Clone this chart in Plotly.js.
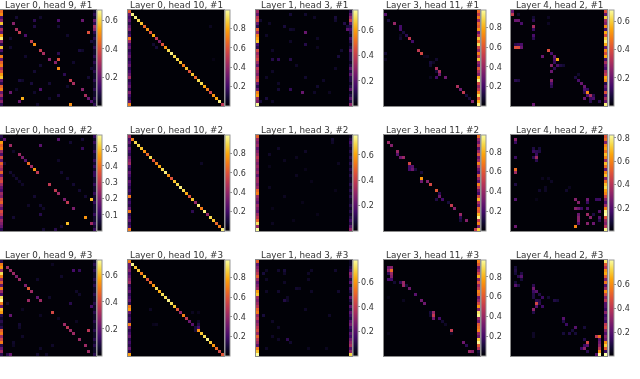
<!DOCTYPE html>
<html><head><meta charset="utf-8">
<script src="https://cdn.plot.ly/plotly-3.0.1.min.js"></script>
<style>html,body{margin:0;padding:0;background:#fff}#c{width:640px;height:379px;filter:blur(0.4px)}</style>
</head><body><div id="c"></div>
<script>
const titles=["Layer 0, head 9, #1","Layer 0, head 10, #1","Layer 1, head 3, #1","Layer 3, head 11, #1","Layer 4, head 2, #1",
"Layer 0, head 9, #2","Layer 0, head 10, #2","Layer 1, head 3, #2","Layer 3, head 11, #2","Layer 4, head 2, #2",
"Layer 0, head 9, #3","Layer 0, head 10, #3","Layer 1, head 3, #3","Layer 3, head 11, #3","Layer 4, head 2, #3"];
const zmaxes=[.67,.99,.76,.98,.68,.59,.99,.757,.97,.825,.71,.98,.78,.97,.8];
const ticks=[[.2,.4,.6],[.2,.4,.6,.8],[.2,.4,.6],[.2,.4,.6,.8],[.2,.4,.6],
[.1,.2,.3,.4,.5],[.2,.4,.6,.8],[.2,.4,.6],[.2,.4,.6,.8],[.2,.4,.6,.8],
[.2,.4,.6],[.2,.4,.6,.8],[.2,.4,.6],[.2,.4,.6,.8],[.2,.4,.6]];

// left column (column 0) of each panel
const left=[
[.45,.5,.15,.25,.58,.1,.3,.2,.52,.64,.25,.1,.58,.15,.05,.48,.2,.43,.48,.3,.4,.52,.58,.2,.1,.43,.48,.2,.3,.15,.25,.1],
[.62,.28,.2,.28,.14,.28,.35,.14,.2,.7,.42,.2,.28,.14,.2,.28,.14,.2,.28,.14,.2,.28,.42,.14,.2,.28,.14,.35,.2,.14,.28,.7],
[.32,.22,.38,.43,.22,.11,.48,.32,.54,.6,.65,.16,.11,.43,.32,.38,.43,.32,.22,.38,.32,.27,.38,.43,.22,.11,.22,.54,.6,.32,.27,.75],
[],[.2,0,0,0,0,0,0,0,0,0,0,0,0,0,0,0,0,0,0,0,0,0,0,0,0,0,0,0,0,0,0,0],
[.08,.04,.46,.38,.42,.25,.13,.34,.17,.38,.3,.25,.38,.17,.3,.34,.25,.17,.13,.25,.21,.34,.38,.25,.17,.34,.3,.17,.25,.21,.17,.08],
[.42,.2,.28,.14,.28,.2,.14,.28,.35,.42,.2,.14,.28,.2,.14,.28,.2,.14,.2,.14,.7,.14,.2,.14,.28,.7,.14,.2,.28,.14,.2,.7],
[.49,.32,.27,.32,.22,.27,.32,.38,.32,.27,.32,.27,.32,.22,.32,.32,.27,.32,.49,.54,.32,.27,.22,.32,.27,.22,.32,.38,.49,.7,.32,.75],
[],[],
[.1,.5,.55,.3,.65,.5,.3,.45,.2,.5,.3,.15,.65,.7,.5,.2,.6,.55,.1,.05,.1,.05,.1,.45,.5,.3,.4,.5,.1,.2,.3,.1],
[.7,.28,.28,.35,.2,.28,.35,.42,.14,.2,.28,.14,.2,.28,.14,.7,.77,.28,.14,.2,.14,.7,.28,.14,.2,.28,.14,.2,.14,.28,.14,.77],
[.5,.22,.28,.33,.39,.5,.33,.22,.28,.33,.61,.67,.33,.28,.33,.39,.5,.55,.33,.39,.28,.33,.39,.44,.33,.5,.39,.33,.22,.55,.67,.78],
[],[]];

// right column (column 31) of each panel
const right=[
[.05,.1,.05,.2,.1,.3,.05,.1,.05,.1,.05,.05,.1,.05,.05,.1,.05,.1,.05,.05,.1,.05,.05,.1,.05,.05,.1,.05,.05,.1,.05,.1],
[],
[.1,.2,.3,.4,.2,.1,.15,.1,.05,.15,.1,.05,.1,.2,.1,.1,.1,.05,.1,.2,.1,.2,.1,.1,.05,.1,.2,.05,.1,.2,.1,.3],
[.65,.5,.7,.4,.65,.6,.75,.3,.5,.85,.65,.9,.55,.4,.7,.5,.85,.4,.3,.6,.45,.35,.8,.95,.55,.4,.5,.7,.9,.6,.8,.95],
[.4,.2,.6,.3,.25,.5,.15,.55,.4,.6,.65,.55,.2,.5,.4,.55,.15,.3,.2,.15,.3,.35,.55,.5,.1,.2,.15,.4,.15,.3,.2,.65],
[.1,.05,.1,.05,.05,.1,.05,.05,.1,.05,.1,.05,.05,.1,.05,.05,.1,.05,.05,.1,.05,.05,.1,.05,.05,.05,.1,.05,.05,.1,.05,.1],
[],
[.05,.1,.15,.1,.05,.1,.05,.1,.05,.1,.05,.1,.05,.1,.05,.05,.1,.05,.1,.05,.1,.05,.05,.1,.05,.1,.05,.1,.15,.1,.2,.3],
[.65,.4,.3,.5,.25,.4,.6,.3,.4,.7,.45,.3,.2,.6,.4,.25,.7,.5,.3,.2,.55,.8,.45,.3,.65,.6,.8,.95,.5,.7,.3,.85],
[.5,.55,.3,.6,.65,.55,.7,.6,.35,.7,.55,.25,.6,.7,.3,.55,.7,.75,.65,.6,.45,.3,.2,.35,.6,.8,.9,.5,.35,.3,.4,.8],
[.05,.1,.05,.1,.05,.05,.1,.05,.1,.05,.05,.1,.05,.05,.1,.05,.05,.1,.05,.05,.1,.05,.05,.1,.05,.05,.1,.05,.1,.05,.05,.1],
[],
[.05,.05,.1,.15,.3,.25,.1,.2,.05,.15,.1,.05,.2,.1,.05,.2,.1,.2,.15,.1,.2,.25,.15,.1,.2,.15,.25,.3,.35,.2,.3,.7],
[.7,.6,.3,.4,.55,.8,.35,.6,.4,.5,.7,.65,.3,.4,.55,.75,.35,.9,.95,.4,.3,.6,.65,.7,.4,.3,.85,.95,.6,.45,.1,.05],
[.75,.5,.4,.6,.65,.5,.3,.55,.2,.35,.6,.45,.3,.4,.2,.2,.15,.3,.15,.2,.15,.4,.45,.3,.2,.3,.25,.6,.7,.5,.15,.8]];

// main diagonal of the "head 10" panels, rows 1 to 31
const diag10a=[.95,.95,.9,.85,.65,.75,.6,.8,.5,.35,.6,.75,.9,.95,.9,.9,.85,.7,.85,.6,.85,.65,.9,.9,.8,.7,.55,.75,.8,.95,.5];
const diag10b=[.7,.9,.9,.85,.75,.65,.9,.6,.7,.8,.9,.95,.75,.6,.85,.9,.95,.9,.8,.6,.85,.4,.95,.7,.95,.4,.9,.85,.65,.7,.95];
const diag10c=[.95,.85,.85,.7,.85,.6,.65,.75,.9,.8,.9,.9,.95,.9,.85,.6,.4,.7,.5,.3,.25,.9,.75,.85,.9,.95,.85,.75,.65,.55,.6];

// other cells, [row, column, value]
const cells00=[[4,4,.25],[6,5,.3],[7,6,.35],[8,8,.15],[10,10,.35],[11,11,.5],[13,13,.35],[14,14,.3],[16,16,.25],[17,18,.25],[16,19,.4],[19,19,.5],[21,21,.1],[23,23,.35],[24,24,.3],[26,27,.25],[28,28,.3],[29,29,.2],[30,30,.15],[7,29,.4],[3,27,.2],[29,7,.55],[31,23,.5],[27,3,.2],[26,13,.15],[30,6,.2],[3,19,.15],[3,11,.1],[6,31,.25],[2,5,.06],[2,13,.05],[5,11,.08],[5,19,.06],[9,3,.05],[12,3,.05],[13,26,.07],[13,27,.05],[14,19,.1],[15,8,.05],[18,13,.06],[20,11,.06],[23,6,.07],[23,7,.05],[24,10,.07],[24,16,.06],[25,22,.05],[26,5,.05],[27,11,.05],[28,19,.08],[22,29,.06],[19,30,.05],[10,30,.07],[29,16,.05],[31,12,.05],[8,22,.05],[17,24,.05]];
const cells01=[[12,9,.1],[11,8,.08],[5,27,.05],[16,28,.03]];
const cells02=[[3,1,.06],[5,9,.08],[7,16,.22],[10,11,.05],[11,16,.1],[13,5,.05],[16,5,.1],[16,7,.12],[16,11,.1],[15,27,.08],[13,28,.06],[1,11,.07],[1,16,.06],[2,26,.08],[3,26,.06],[2,19,.05],[6,11,.06],[6,12,.05],[4,4,.05],[8,3,.05],[9,20,.05],[12,20,.04],[18,13,.05],[20,5,.05],[22,3,.05],[26,7,.07],[26,11,.12],[27,15,.22],[27,19,.05],[29,3,.08],[30,1,.08],[30,5,.05],[22,16,.06],[23,22,.05],[24,7,.05],[25,20,.06],[19,26,.05],[27,24,.04],[5,30,.08],[6,30,.2],[4,29,.1]];
const cells03=[[1,0,.25],[3,1,.1],[4,3,.4],[5,5,.2],[6,5,.2],[8,5,.05],[7,6,.1],[8,7,.15],[9,8,.5],[10,9,.2],[9,5,.08],[13,11,.5],[14,12,.55],[15,14,.05],[15,13,.04],[17,15,.1],[18,15,.08],[17,16,.06],[19,17,.45],[20,18,.45],[21,18,.3],[22,17,.2],[22,20,.3],[20,17,.1],[16,17,.08],[22,15,.05],[25,24,.45],[26,25,.3],[27,26,.5],[28,27,.1],[29,28,.1],[30,29,.35],[14,0,.08],[16,0,.05]];
const cells04=[[1,0,.35],[3,1,.2],[3,2,.2],[4,3,.15],[5,7,.3],[3,7,.1],[8,7,.15],[9,7,.1],[6,7,.12],[12,1,.4],[12,2,.4],[11,3,.15],[11,1,.1],[11,2,.12],[12,3,.2],[15,10,.2],[13,12,.4],[16,15,.55],[15,14,.2],[14,13,.15],[16,14,.15],[18,13,.25],[18,15,.15],[17,14,.12],[19,14,.1],[20,13,.2],[18,16,.08],[18,17,.06],[23,13,.25],[25,13,.1],[24,13,.15],[23,22,.15],[24,23,.2],[27,25,.5],[25,24,.2],[28,26,.3],[26,24,.15],[26,25,.12],[27,24,.1],[28,25,.15],[29,24,.2],[29,27,.15],[29,26,.12],[28,27,.1],[30,29,.1],[30,26,.1],[31,7,.2],[23,1,.1],[23,2,.08],[1,2,.05],[2,7,.06],[2,12,.04],[4,12,.04],[22,21,.08],[21,22,.05]];
const cells10=[[3,3,.25],[1,1,.15],[6,6,.25],[7,7,.2],[8,8,.15],[9,9,.4],[10,10,.25],[11,11,.45],[12,12,.3],[16,16,.3],[18,18,.3],[19,19,.25],[21,21,.2],[22,22,.3],[24,24,.2],[21,30,.5],[27,28,.45],[29,30,.25],[29,22,.5],[3,13,.15],[1,19,.15],[4,27,.1],[12,31,.1],[5,4,.04],[9,1,.05],[12,3,.05],[13,4,.04],[14,5,.05],[15,6,.04],[16,7,.04],[20,11,.05],[23,13,.05],[24,14,.04],[26,13,.08],[8,19,.04],[12,20,.05],[14,22,.05],[16,24,.05],[18,26,.05],[20,28,.05],[31,18,.08],[31,14,.05],[30,20,.05],[2,23,.05],[27,4,.05],[23,9,.04],[1,27,.05]];
const cells11=[[9,24,.06],[25,21,.15],[6,5,.02],[17,16,.02]];
const cells12=[[1,25,.06],[2,25,.05],[4,7,.05],[5,16,.05],[6,4,.05],[7,13,.04],[8,9,.04],[9,27,.04],[10,4,.03],[11,16,.03],[13,13,.04],[15,18,.03],[17,4,.04],[18,26,.03],[20,9,.04],[22,15,.03],[24,5,.03],[26,20,.03],[28,12,.03],[29,5,.04]];
const cells13=[[2,1,.4],[3,2,.35],[5,4,.4],[6,4,.25],[7,5,.3],[7,6,.4],[9,8,.55],[10,9,.25],[11,8,.2],[11,9,.3],[10,8,.2],[11,10,.1],[12,12,.1],[14,12,.75],[15,12,.3],[15,14,.35],[16,15,.55],[18,17,.6],[19,18,.15],[20,18,.3],[21,19,.2],[21,17,.12],[22,21,.1],[23,22,.5],[24,23,.35],[26,25,.4],[27,25,.15],[28,27,.35],[28,25,.1],[31,30,.5]];
const cells14=[[1,1,.3],[2,1,.15],[7,8,.35],[5,7,.15],[5,9,.1],[5,8,.12],[6,8,.15],[8,8,.12],[7,7,.12],[4,7,.1],[4,9,.08],[7,1,.15],[11,1,.55],[12,1,.35],[16,1,.1],[21,1,.2],[30,1,.25],[30,21,.6],[21,21,.3],[22,22,.3],[21,25,.25],[22,25,.15],[24,21,.3],[24,22,.25],[24,23,.15],[24,25,.2],[26,25,.35],[27,26,.3],[27,22,.3],[28,22,.3],[26,22,.25],[29,22,.2],[29,25,.3],[29,27,.25],[26,27,.1],[25,29,.2],[27,29,.2],[21,29,.15],[21,28,.15],[28,29,.12],[14,10,.04],[14,12,.04],[15,13,.05],[17,11,.05],[18,18,.06],[17,19,.04],[18,9,.06],[18,11,.05],[21,8,.03]];
const cells20=[[2,2,.3],[3,3,.3],[4,4,.3],[5,5,.25],[6,6,.3],[8,8,.25],[9,9,.45],[10,10,.3],[13,9,.3],[12,12,.2],[13,13,.3],[17,17,.4],[21,21,.3],[22,22,.35],[23,23,.3],[24,24,.3],[23,29,.35],[26,26,.3],[28,28,.3],[30,29,.3],[3,24,.15],[3,26,.12],[18,3,.2],[14,23,.1],[15,30,.15],[31,3,.2],[31,2,.1],[31,15,.05],[31,12,.06],[10,25,.05],[11,26,.05],[20,25,.04],[21,6,.06],[22,6,.05],[25,7,.05],[27,4,.05],[28,4,.04],[12,16,.05],[14,2,.05],[16,7,.04],[18,13,.04],[19,19,.04],[6,12,.05],[5,20,.05],[1,17,.04],[28,17,.05],[29,13,.05]];
const cells21=[[16,7,.06],[21,9,.05],[21,8,.04],[22,23,.2],[21,23,.12],[22,22,.1],[20,23,.06],[17,21,.05],[17,23,.04],[23,22,.1],[12,13,.04]];
const cells22=[[3,9,.08],[3,7,.06],[3,3,.05],[4,2,.08],[4,9,.05],[6,3,.05],[7,9,.05],[9,13,.06],[9,14,.05],[10,7,.06],[10,3,.05],[10,27,.06],[10,18,.05],[12,10,.05],[13,9,.1],[13,10,.05],[16,16,.05],[18,2,.08],[18,24,.05],[20,5,.05],[22,7,.05],[25,5,.05],[26,10,.12],[27,11,.06],[26,7,.05],[29,17,.04],[29,3,.05],[6,17,.05],[4,17,.05],[3,18,.05],[3,26,.06],[29,23,.04]];
const cells23=[[3,1,.4],[2,2,.35],[3,2,.65],[4,2,.4],[2,1,.3],[4,1,.15],[6,1,.2],[5,2,.35],[6,2,.2],[7,3,.08],[7,6,.4],[8,6,.4],[7,5,.15],[8,7,.1],[9,8,.3],[11,10,.25],[13,12,.3],[14,13,.3],[17,16,.4],[18,16,.5],[19,16,.3],[17,15,.1],[18,15,.08],[19,18,.2],[20,19,.08],[21,20,.06],[23,22,.5],[24,22,.06],[27,26,.3],[28,27,.15],[30,28,.4],[30,29,.35],[13,6,.05],[12,1,.03],[24,1,.03]];
const cells24=[[3,1,.1],[2,1,.08],[4,1,.08],[5,3,.2],[5,2,.12],[4,3,.1],[6,3,.08],[8,1,.2],[8,2,.1],[7,1,.08],[9,7,.25],[8,7,.12],[10,7,.15],[10,8,.2],[11,7,.1],[11,9,.1],[12,7,.1],[12,10,.15],[13,8,.12],[14,8,.45],[13,9,.1],[14,9,.12],[15,10,.15],[15,8,.2],[16,7,.3],[17,7,.1],[13,14,.1],[13,15,.08],[12,12,.07],[19,17,.2],[20,17,.1],[21,18,.15],[22,21,.2],[23,20,.08],[24,19,.1],[24,21,.08],[24,17,.08],[22,24,.08],[27,25,.45],[29,24,.3],[28,25,.2],[29,23,.15],[26,24,.1],[28,24,.15],[25,29,.55],[25,28,.4],[26,29,.2],[27,29,.25],[28,29,.3],[29,29,.4],[30,29,.6],[31,29,.85],[31,28,.2],[30,25,.12],[24,7,.05],[25,7,.05]];

const diagonals={1:diag10a,6:diag10b,11:diag10c};
const extras=[cells00,cells01,cells02,cells03,cells04,cells10,cells11,cells12,cells13,cells14,cells20,cells21,cells22,cells23,cells24];
const cellCount=32;

const panelLeft=[0,128,256,384,511], panelTop=[10,135,260], panelSize=96;
const barLeft=[97,225,353,481,608.5];
const W=640,H=379;
const inferno=[[0,'#000004'],[.1,'#160b39'],[.2,'#420a68'],[.3,'#6a176e'],[.4,'#932667'],[.5,'#bc3754'],[.6,'#dd513a'],[.7,'#f37819'],[.8,'#fca50a'],[.9,'#f6d746'],[1,'#fcffa4']];

const traces=[],annotations=[],layout={};
titles.forEach((t,i)=>{
  const col=i%5,row=Math.floor(i/5);
  const z=[];
  for(let r=0;r<cellCount;r++){z.push(new Array(cellCount).fill(0.005));}
  (left[i]||[]).forEach((v,r)=>{if(v)z[r][0]=v;});
  (right[i]||[]).forEach((v,r)=>{z[r][cellCount-1]=v;});
  if(diagonals[i])diagonals[i].forEach((v,k)=>{z[k+1][k+1]=v;});
  extras[i].forEach(c=>{z[c[0]][c[1]]=c[2];});
  const n=i+1,sfx=n===1?'':n;
  const L=panelLeft[col],T=panelTop[row];
  layout['xaxis'+sfx]={domain:[L/W,(L+panelSize)/W],range:[-.5,cellCount-.5],anchor:'y'+sfx,showticklabels:false,ticks:'',showgrid:false,zeroline:false,showline:true,mirror:true,linecolor:'#8a8a8a',linewidth:1};
  layout['yaxis'+sfx]={domain:[1-(T+panelSize)/H,1-T/H],range:[cellCount-.5,-.5],anchor:'x'+sfx,showticklabels:false,ticks:'',showgrid:false,zeroline:false,showline:true,mirror:true,linecolor:'#8a8a8a',linewidth:1};
  traces.push({type:'heatmap',z:z,xaxis:'x'+sfx,yaxis:'y'+sfx,colorscale:inferno,zmin:0,zmax:zmaxes[i],hoverinfo:'skip',
    colorbar:{x:barLeft[col]/W,xanchor:'left',xref:'paper',y:1-(T+panelSize/2)/H,yanchor:'middle',yref:'paper',len:panelSize/H,lenmode:'fraction',thickness:5,thicknessmode:'pixels',xpad:0,ypad:0,outlinecolor:'#9a9a9a',outlinewidth:1,tickmode:'array',tickvals:ticks[i],ticktext:ticks[i].map(v=>v.toFixed(1)),ticks:'outside',ticklen:1.5,tickwidth:.6,tickcolor:'#444',tickfont:{family:'DejaVu Sans',size:8,color:'#333'},borderwidth:0}});
  annotations.push({text:t,xref:'paper',yref:'paper',x:(L+panelSize/2)/W,y:1-(T-5.5)/H,xanchor:'center',yanchor:'middle',showarrow:false,font:{family:'DejaVu Sans',size:8.8,color:'#333'}});
});
Object.assign(layout,{width:W,height:H,margin:{l:0,r:0,t:0,b:0},paper_bgcolor:'#fff',plot_bgcolor:'#000',showlegend:false,annotations:annotations});
Plotly.newPlot('c',traces,layout,{displayModeBar:false,staticPlot:true});
</script></body></html>
